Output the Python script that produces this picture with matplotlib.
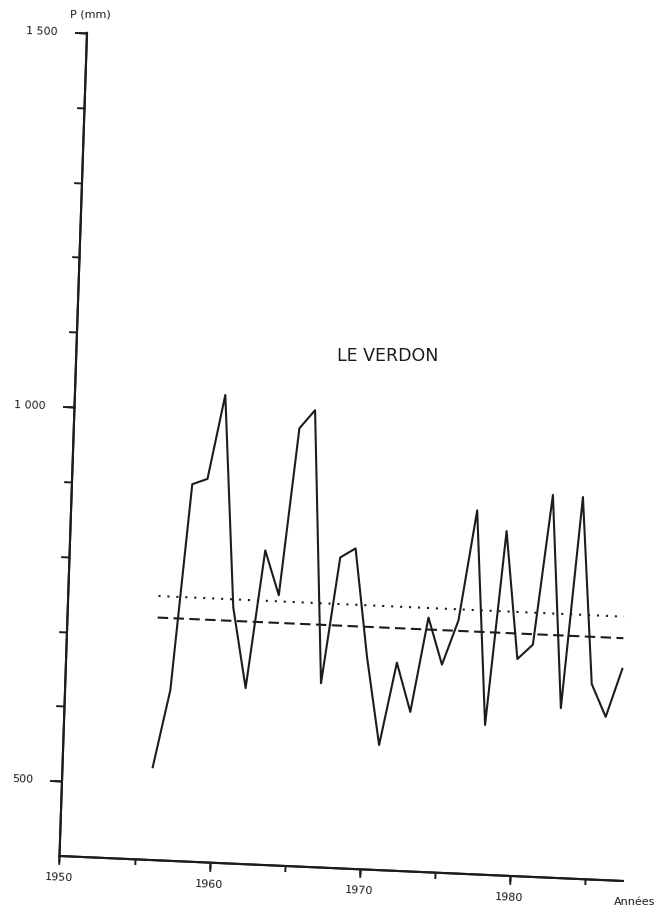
import numpy as np
import matplotlib
matplotlib.use("Agg")
import matplotlib.pyplot as plt
from matplotlib.transforms import Affine2D
import mpl_toolkits.axisartist.floating_axes as floating_axes
from mpl_toolkits.axisartist.grid_finder import FixedLocator, DictFormatter

# annual precipitation, Le Verdon (mm)
years = np.arange(1956, 1988)
precip = [524, 628, 904, 912, 1025, 742, 635, 820, 761, 985,
          1010, 646, 815, 828, 684, 567, 678, 613, 740, 678,
          738, 886, 600, 860, 690, 710, 911, 627, 910, 661,
          618, 683]

year_ticks = [1950, 1955, 1960, 1965, 1970, 1975, 1980, 1985]
year_labels = {1950: "1950", 1960: "1960", 1970: "1970", 1980: "1980"}
p_ticks = [500, 600, 700, 800, 900, 1000, 1100, 1200, 1300, 1400, 1500]
p_labels = {500: "500", 1000: "1 000", 1500: "1 500"}

ink = "#1c1c1c"

fig = plt.figure(figsize=(6.6, 9.15), dpi=100)

# px per year / px per mm, with the slight skew of the plotted frame
tr = Affine2D.from_values(15.02, -0.666, 0.025, 0.7482, 0, 0)
rect = [0.0812, 0.0279, 0.9130, 0.9454]


def frame(xt, yt, xfmt, yfmt, ticksize, show_labels):
    helper = floating_axes.GridHelperCurveLinear(
        tr, extremes=(1950, 1987.5, 400, 1500),
        grid_locator1=FixedLocator(xt),
        grid_locator2=FixedLocator(yt),
        tick_formatter1=DictFormatter(xfmt),
        tick_formatter2=DictFormatter(yfmt))
    a = fig.add_axes(rect, axes_class=floating_axes.FloatingAxes,
                     grid_helper=helper)
    a.patch.set_visible(False)
    a.axis["top"].set_visible(False)
    a.axis["right"].set_visible(False)
    for side in ("bottom", "left"):
        s = a.axis[side]
        s.line.set_linewidth(1.5)
        s.line.set_color(ink)
        s.major_ticks.set_tick_out(True)
        s.major_ticks.set_ticksize(ticksize[side])
        s.major_ticks.set_color(ink)
        s.major_ticks.set_markeredgewidth(1.4)
        s.major_ticklabels.set_fontsize(8)
        s.major_ticklabels.set_color(ink)
        s.major_ticklabels.set_visible(show_labels)
    a.axis["bottom"].major_ticklabels.set_pad(6)
    a.axis["left"].major_ticklabels.set_pad(12)
    return a


# all ticks short, labelled ticks drawn longer on top
ax = frame(year_ticks, p_ticks, {}, {}, {"bottom": 4, "left": 6}, False)
ax2 = frame(list(year_labels), list(p_labels), year_labels, p_labels,
            {"bottom": 6, "left": 9}, True)

aux = ax.get_aux_axes(tr)
aux.plot(years, precip, color=ink, lw=1.5)

mean_p = np.mean(precip)
median_p = np.median(precip)
aux.plot([years[0], years[-1]], [mean_p, mean_p], color=ink, lw=1.5,
         linestyle=(0, (1, 3.3)))
aux.plot([years[0], years[-1]], [median_p, median_p], color=ink, lw=1.5,
         linestyle=(0, (5, 2.6)))

aux.text(1970.7, 1086, "LE VERDON", fontsize=12.5, color=ink,
         ha="center", va="center")
aux.text(1950.2, 1525, "P (mm)", fontsize=8, color=ink,
         ha="center", va="center")
aux.text(1988.3, 373, "Années", fontsize=8, color=ink,
         ha="center", va="center")

fig.savefig("out.png", dpi=100)
